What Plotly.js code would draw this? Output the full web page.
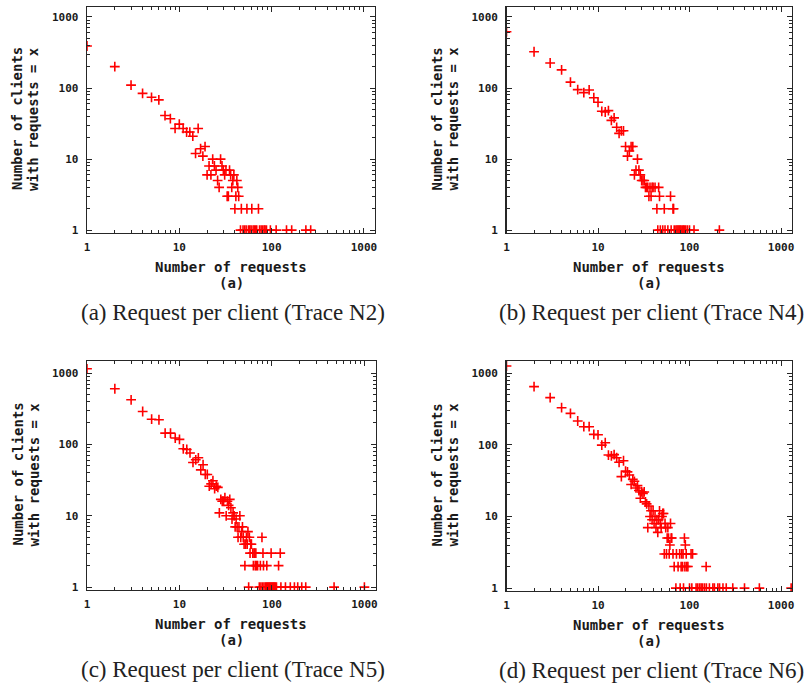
<!DOCTYPE html>
<html>
<head>
<meta charset="utf-8">
<script src="https://cdn.plot.ly/plotly-3.0.1.min.js"></script>
<style>html,body{margin:0;padding:0;background:#fff;}#chart{width:804px;height:685px;}</style>
</head>
<body>
<div id="chart"></div>
<script>
// ---- Data ----
const n2Requests = [1,2,3,4,5,6,7,8,9,10,11,12,13,14,15,16,17,18,19,20,21,22,23,24,25,26,27,28,29,30,31,32,33,34,35,36,37,38,39,40,41,42,43,44,46,47,49,51,53,54,56,58,60,61,63,65,67,69,72,74,77,80,83,85,88,97,112,145,165,235,265];
const n2Clients  = [390,200,110,84,74,68,41,37,27,31,27,24,24,21,12,27,14,11,15,6,8,6,10,8,7,5,4,10,8,7,6,7,3,3,7,6,4,5,6,2,3,5,4,3,1,2,1,1,1,2,1,1,1,2,1,1,1,1,2,1,1,1,1,1,1,1,1,1,1,1,1];

const n4Requests = [1,2,3,4,5,6,7,8,9,10,11,12,13,14,15,16,17,18,19,20,21,22,23,24,25,26,27,28,29,30,31,32,33,34,35,36,37,38,39,40,42,44,45,46,47,48,51,53,54,58,62,63,66,67,68,71,73,75,77,79,81,84,86,88,91,95,100,112,212];
const n4Clients  = [620,324,225,180,121,95,86,94,73,63,47,46,48,35,38,28,23,25,25,15,11,13,15,15,6,7,10,7,6,5,5,5,4,4,4,3,4,3,4,4,4,2,1,4,3,1,1,2,1,1,3,1,2,2,1,1,1,1,1,1,1,1,1,1,1,1,1,1,1];

const n5Requests = [1,2,3,4,5,6,7,8,9,10,11,12,13,14,15,16,17,18,19,20,21,22,23,24,25,26,27,28,29,30,31,32,33,34,35,36,37,38,39,40,41,42,43,44,45,46,47,48,49,50,51,52,53,54,55,56,57,58,59,60,62,63,64,65,66,67,68,70,73,75,76,78,79,80,81,82,85,87,88,89,91,93,95,97,98,99,101,103,105,107,109,112,118,123,125,140,158,175,190,210,232,470,1000];
const n5Clients  = [1150,604,423,290,226,222,144,144,123,118,87,85,76,56,61,65,44,52,38,38,26,28,31,24,26,25,11,17,16,16,18,10,16,14,17,13,9,11,10,7,9,7,5,7,10,5,6,7,5,4,2,4,5,4,6,1,5,3,4,4,3,2,3,3,2,3,2,2,1,2,1,5,1,3,2,1,1,1,2,1,1,1,1,1,3,1,1,1,1,1,1,1,2,3,1,1,1,1,1,1,1,1,1];

const n6Requests = [1,2,3,4,5,6,7,8,9,10,11,12,13,14,15,16,17,18,19,20,21,22,23,24,25,26,27,28,29,30,31,32,33,34,35,36,37,38,39,40,41,42,43,44,45,46,47,48,49,50,51,52,53,54,55,56,57,58,59,60,61,62,63,64,66,68,71,72,75,78,79,81,82,84,85,86,88,89,90,92,93,96,100,104,106,108,118,123,129,134,139,146,152,153,165,180,187,204,213,232,252,297,399,580,1290];
const n6Clients  = [1260,650,456,330,275,215,179,179,140,138,99,107,72,70,73,66,57,36,60,43,42,38,28,33,31,25,27,23,18,22,21,22,16,15,7,14,10,12,9,12,8,10,7,9,6,9,12,8,7,10,11,11,3,8,7,3,5,7,5,3,4,8,5,5,3,2,1,3,2,3,1,2,3,2,3,1,5,2,4,3,2,2,1,3,1,3,1,1,1,1,1,1,2,1,1,1,1,1,1,1,1,1,1,1,1];

const captions = ["(a) Request per client (Trace N2)", "(b) Request per client (Trace N4)",
                  "(c) Request per client (Trace N5)", "(d) Request per client (Trace N6)"];
const xTitle = "Number of requests";
const subLabel = "(a)";
const yTitleLine1 = "Number of clients";
const yTitleLine2 = "with requests = x";
const tickValues = [1, 10, 100, 1000];
const tickLabels = ["1", "10", "100", "1000"];
const minorValues = [2,3,4,5,6,7,8,9,20,30,40,50,60,70,80,90,200,300,400,500,600,700,800,900];

// ---- Layout helpers (pixel -> paper) ----
const W = 804, H = 685;
const fx = p => p / W;
const fy = p => 1 - p / H;

const monoFont = {family: 'DejaVu Sans Mono, monospace', size: 11, color: '#1a1a1a', weight: 'bold'};
const lineCol = '#262626';

function axis(domain, anchor, range) {
  return {
    type: 'log', domain: domain, anchor: anchor, range: range,
    showline: true, linecolor: lineCol, linewidth: 1.4, mirror: 'allticks',
    ticks: 'inside', ticklen: 5, tickwidth: 1, tickcolor: lineCol,
    tickmode: 'array', tickvals: tickValues, ticktext: tickLabels,
    tickfont: monoFont, ticklabelstandoff: 3,
    minor: {tickmode: 'array', tickvals: minorValues, ticks: 'inside', ticklen: 3, tickwidth: 1, tickcolor: lineCol},
    showgrid: false, zeroline: false, fixedrange: true
  };
}

const panels = [
  {x: n2Requests, y: n2Clients, box: [87, 375, 7, 233], yr: [-0.04, 3.14]},
  {x: n4Requests, y: n4Clients, box: [506.5, 792, 7, 233], yr: [-0.04, 3.14]},
  {x: n5Requests, y: n5Clients, box: [87, 375.5, 361, 590], yr: [-0.04, 3.17]},
  {x: n6Requests, y: n6Clients, box: [506.5, 792, 361, 591], yr: [-0.04, 3.17]}
];

const traces = [];
const layout = {
  width: W, height: H, margin: {l: 0, r: 0, t: 0, b: 0},
  paper_bgcolor: '#ffffff', plot_bgcolor: '#ffffff', showlegend: false,
  annotations: []
};

panels.forEach((p, i) => {
  const n = i + 1;
  const xs = n === 1 ? 'x' : 'x' + n;
  const ys = n === 1 ? 'y' : 'y' + n;
  traces.push({
    type: 'scatter', mode: 'markers', x: p.x, y: p.y, xaxis: xs, yaxis: ys,
    marker: {symbol: 'cross-thin', size: 7, line: {color: '#ff0000', width: 1.6}, color: '#ff0000'},
    hoverinfo: 'x+y'
  });
  const [l, r, t, b] = p.box;
  layout['xaxis' + (n === 1 ? '' : n)] = axis([fx(l), fx(r)], ys, [0, 3.12]);
  const ya = axis([fy(b), fy(t)], xs, p.yr);
  ya.ticklabelstandoff = 5;
  layout['yaxis' + (n === 1 ? '' : n)] = ya;

  const cx = (l + r) / 2;
  const titleFont = {family: 'DejaVu Sans Mono, monospace', size: 14, color: '#1a1a1a', weight: 'bold'};
  layout.annotations.push(
    {xref: 'paper', yref: 'paper', x: fx(cx), y: fy(b + 34), text: xTitle, showarrow: false, font: titleFont, xanchor: 'center', yanchor: 'middle'},
    {xref: 'paper', yref: 'paper', x: fx(cx), y: fy(b + 50), text: subLabel, showarrow: false, font: titleFont, xanchor: 'center', yanchor: 'middle'},
    {xref: 'paper', yref: 'paper', x: fx(l - 70), y: fy((t + b) / 2 - 1), text: yTitleLine1, textangle: -90, showarrow: false, font: titleFont, xanchor: 'center', yanchor: 'middle'},
    {xref: 'paper', yref: 'paper', x: fx(l - 54), y: fy((t + b) / 2 - 1), text: yTitleLine2, textangle: -90, showarrow: false, font: titleFont, xanchor: 'center', yanchor: 'middle'},
    {xref: 'paper', yref: 'paper', x: fx(cx + 2), y: fy(b + 79), text: captions[i], showarrow: false,
     font: {family: 'Liberation Serif, serif', size: 23, color: '#222'}, xanchor: 'center', yanchor: 'middle'}
  );
});

Plotly.newPlot('chart', traces, layout, {staticPlot: true, displayModeBar: false});
</script>
</body>
</html>
